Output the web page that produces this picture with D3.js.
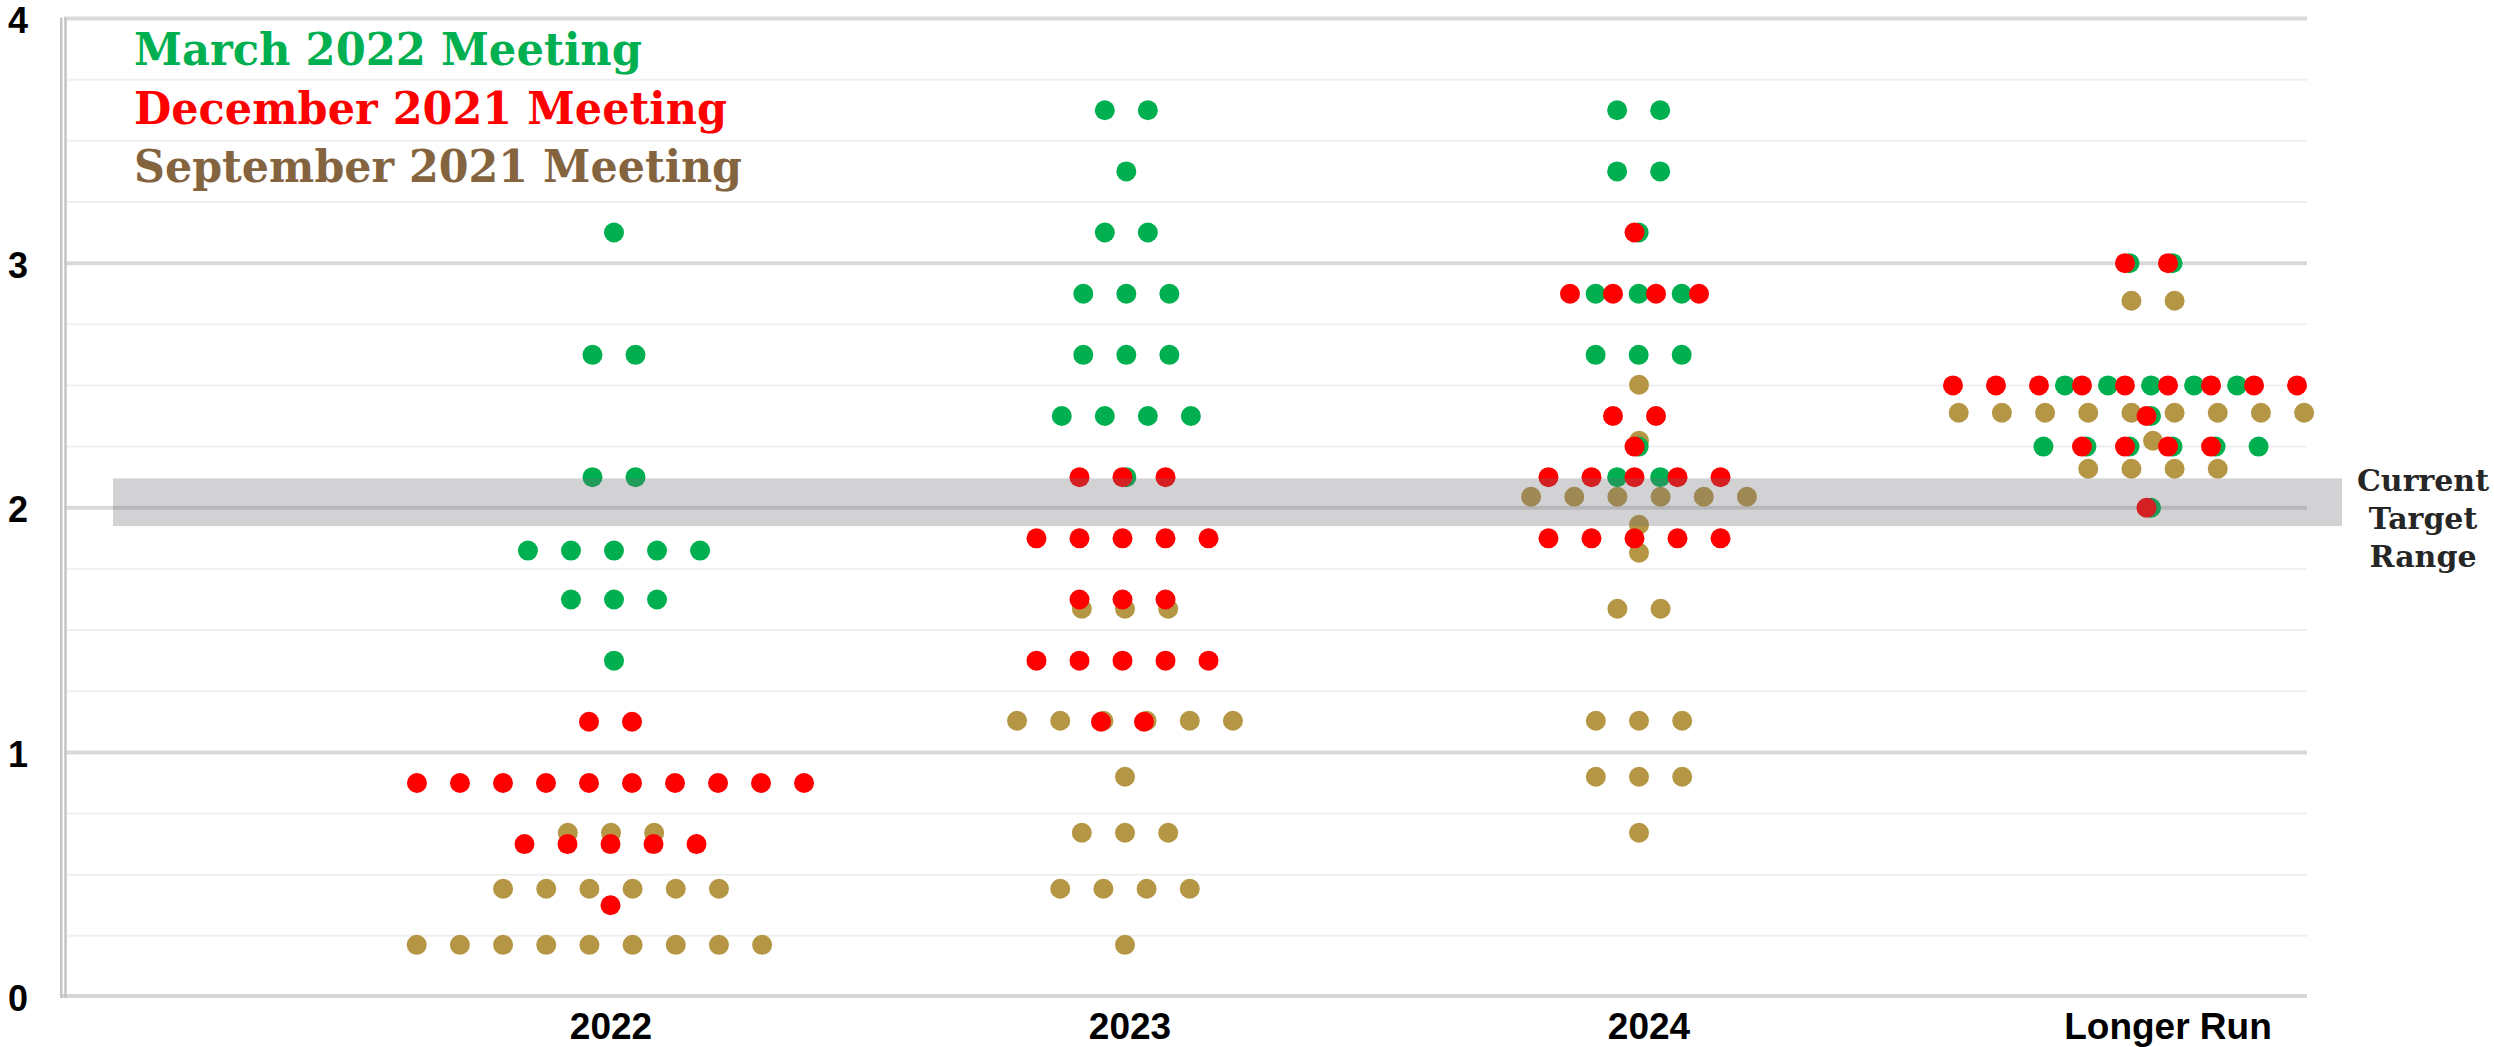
<!DOCTYPE html>
<html>
<head>
<meta charset="utf-8">
<script src="https://cdn.jsdelivr.net/npm/d3@7"></script>
<style>
  html, body { margin: 0; padding: 0; background: #fff; }
  svg { display: block; }
  .axis-label { font-family: 'Liberation Sans', Arial, sans-serif; font-weight: bold; fill: #000; }
  .legend { font-family: 'DejaVu Serif', serif; font-weight: bold; font-size: 44px; }
  .note { font-family: 'DejaVu Serif', serif; font-weight: bold; font-size: 30px; fill: #262626; }
</style>
</head>
<body>
<div id="app"></div>
<script>
const columns = ['2022', '2023', '2024', 'Longer Run'];
const yTicks = [0, 1, 2, 3, 4];

// [column, rate, number of participants]
const march2022 = [
  ['2022', 3.125, 1], ['2022', 2.625, 2], ['2022', 2.125, 2], ['2022', 1.825, 5], ['2022', 1.625, 3], ['2022', 1.375, 1],
  ['2023', 3.625, 2], ['2023', 3.375, 1], ['2023', 3.125, 2], ['2023', 2.875, 3], ['2023', 2.625, 3], ['2023', 2.375, 4], ['2023', 2.125, 1],
  ['2024', 3.625, 2], ['2024', 3.375, 2], ['2024', 3.125, 1], ['2024', 2.875, 3], ['2024', 2.625, 3], ['2024', 2.25, 1], ['2024', 2.125, 2],
  ['Longer Run', 3.0, 2], ['Longer Run', 2.5, 5], ['Longer Run', 2.375, 1], ['Longer Run', 2.25, 6], ['Longer Run', 2.0, 1]
];

const december2021 = [
  ['2022', 1.125, 2], ['2022', 0.875, 10], ['2022', 0.625, 5], ['2022', 0.375, 1],
  ['2023', 2.125, 3], ['2023', 1.875, 5], ['2023', 1.625, 3], ['2023', 1.375, 5], ['2023', 1.125, 2],
  ['2024', 3.125, 1], ['2024', 2.875, 4], ['2024', 2.375, 2], ['2024', 2.25, 1], ['2024', 2.125, 5], ['2024', 1.875, 5],
  ['Longer Run', 3.0, 2], ['Longer Run', 2.5, 9], ['Longer Run', 2.375, 1], ['Longer Run', 2.25, 4], ['Longer Run', 2.0, 1]
];

// plotted against a secondary axis in the source, so it sits a little low
const september2021 = [
  ['2022', 0.625, 3], ['2022', 0.375, 6], ['2022', 0.125, 9],
  ['2023', 1.625, 3], ['2023', 1.125, 6], ['2023', 0.875, 1], ['2023', 0.625, 3], ['2023', 0.375, 4], ['2023', 0.125, 1],
  ['2024', 2.625, 1], ['2024', 2.375, 1], ['2024', 2.125, 6], ['2024', 2.0, 1], ['2024', 1.875, 1], ['2024', 1.625, 2],
  ['2024', 1.125, 3], ['2024', 0.875, 3], ['2024', 0.625, 1],
  ['Longer Run', 3.0, 2], ['Longer Run', 2.5, 9], ['Longer Run', 2.375, 1], ['Longer Run', 2.25, 4]
];

const legendItems = ['March 2022 Meeting', 'December 2021 Meeting', 'September 2021 Meeting'];
const targetLow = 1.925;
const targetHigh = 2.12;
const targetLabel = ['Current', 'Target', 'Range'];

const green = '#00B050';
const red = '#FF0000';
const tan = '#B59645';
const brown = '#84643F';

const width = 2494;
const height = 1047;
const plotLeft = 64;
const plotRight = 2307;
const dotRadius = 10;
const dotGap = 0.084; // share of a column step between two dots



const svg = d3.select('#app').append('svg')
  .attr('width', width)
  .attr('height', height);

const y = d3.scaleLinear().domain([0, 4]).range([997, 18.5]);
const ySecondary = d3.scaleLinear().domain([-0.108, 4.26]).range([997, 18.5]);

const xMarch = d3.scalePoint().domain(columns).range([614, 2151]);
const xDec = d3.scalePoint().domain(columns).range([610.5, 2146.5]);
const xSep = d3.scalePoint().domain(columns).range([611, 2153]);
const xLabel = d3.scalePoint().domain(columns).range([611, 2168]);



// Grid
const minor = d3.range(0.25, 4, 0.25).filter(v => v % 1 !== 0);

svg.append('g')
  .selectAll('line')
  .data(minor)
  .join('line')
  .attr('x1', plotLeft + 2).attr('x2', plotRight)
  .attr('y1', d => y(d)).attr('y2', d => y(d))
  .attr('stroke', '#EFEFEF')
  .attr('stroke-width', 2);

svg.append('g')
  .selectAll('line')
  .data(yTicks.filter(v => v > 0))
  .join('line')
  .attr('x1', plotLeft).attr('x2', plotRight)
  .attr('y1', d => y(d)).attr('y2', d => y(d))
  .attr('stroke', '#D9D9D9')
  .attr('stroke-width', 4);

// axis lines
svg.append('line')
  .attr('x1', plotLeft - 4).attr('x2', plotRight)
  .attr('y1', y(0) - 1).attr('y2', y(0) - 1)
  .attr('stroke', '#D6D6D6')
  .attr('stroke-width', 4);

[61.3, 65.5].forEach(x => {
  svg.append('line')
    .attr('x1', x).attr('x2', x)
    .attr('y1', y(4) - 1).attr('y2', y(0) + 1)
    .attr('stroke', '#C4C4C4')
    .attr('stroke-width', 2.5);
});

svg.append('g')
  .selectAll('text')
  .data(yTicks)
  .join('text')
  .attr('class', 'axis-label')
  .attr('x', 28)
  .attr('y', d => y(d))
  .attr('dy', '0.4em')
  .attr('text-anchor', 'end')
  .style('font-size', '36px')
  .text(d => d);

svg.append('g')
  .selectAll('text')
  .data(columns)
  .join('text')
  .attr('class', 'axis-label')
  .attr('x', d => xLabel(d))
  .attr('y', 1039)
  .attr('text-anchor', 'middle')
  .style('font-size', '37px')
  .text(d => d);



// Dots
const expand = (rows, x, yScale) => rows.flatMap(([col, rate, n]) => {
  // the nine-dot rows are packed on the ten-dot grid in the source
  const first = n === 9 ? -4.5 : -(n - 1) / 2;
  return d3.range(n).map(i => ({
    cx: x(col) + (first + i) * dotGap * x.step(),
    cy: yScale(rate)
  }));
});

const series = [
  { rows: september2021, x: xSep, y: ySecondary, color: tan },
  { rows: march2022, x: xMarch, y: y, color: green },
  { rows: december2021, x: xDec, y: y, color: red }
];

series.forEach(s => {
  svg.append('g')
    .selectAll('circle')
    .data(expand(s.rows, s.x, s.y))
    .join('circle')
    .attr('cx', d => d.cx)
    .attr('cy', d => d.cy)
    .attr('r', dotRadius)
    .attr('fill', s.color);
});



// Target range band, laid over the dots
svg.append('rect')
  .attr('x', 113)
  .attr('width', 2342 - 113)
  .attr('y', y(targetHigh))
  .attr('height', y(targetLow) - y(targetHigh))
  .attr('fill', 'rgb(105,105,115)')
  .attr('fill-opacity', 0.3);

svg.append('text')
  .attr('class', 'note')
  .attr('text-anchor', 'middle')
  .selectAll('tspan')
  .data(targetLabel)
  .join('tspan')
  .attr('x', 2423)
  .attr('y', (_, i) => 491 + i * 38)
  .text(d => d);



// Legend
const legendColors = [green, red, brown];
const legendWidths = [508, 593, 608];

svg.append('g')
  .selectAll('text')
  .data(legendItems)
  .join('text')
  .attr('class', 'legend')
  .attr('x', 134)
  .attr('y', (_, i) => 65 + i * 58.5)
  .attr('fill', (_, i) => legendColors[i])
  .attr('textLength', (_, i) => legendWidths[i])
  .attr('lengthAdjust', 'spacingAndGlyphs')
  .text(d => d);
</script>
</body>
</html>
